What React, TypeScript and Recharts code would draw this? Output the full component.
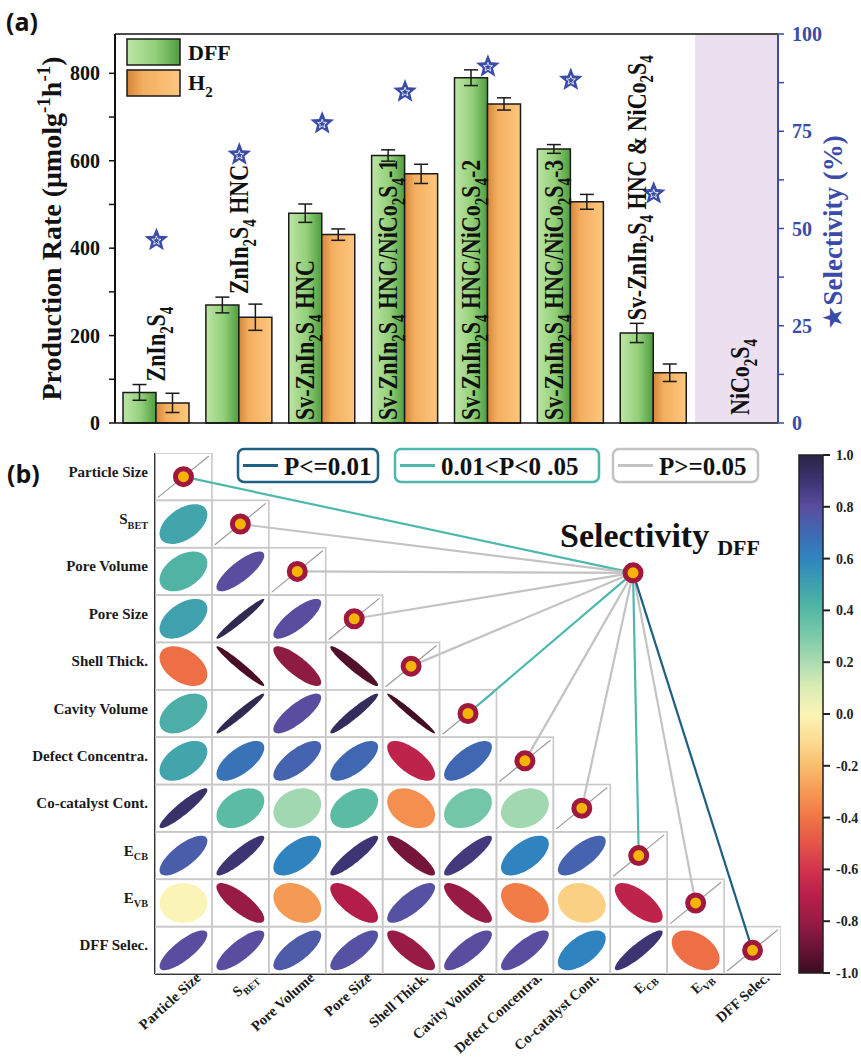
import React from "react";
import {
  ComposedChart,
  Bar,
  ErrorBar,
  Scatter,
  XAxis,
  YAxis,
  ReferenceArea,
  ReferenceLine,
  LabelList,
  ScatterChart,
  BarChart,
} from "recharts";

const SERIF = "'Liberation Serif', 'Times New Roman', serif";
const BLUE = "#3b4ba8";

// ---------- panel (a): production rate + selectivity ----------
const samples = [
  "ZnIn_{2}S_{4}",
  "ZnIn_{2}S_{4} HNC",
  "Sv-ZnIn_{2}S_{4} HNC",
  "Sv-ZnIn_{2}S_{4} HNC/NiCo_{2}S_{4}-1",
  "Sv-ZnIn_{2}S_{4} HNC/NiCo_{2}S_{4}-2",
  "Sv-ZnIn_{2}S_{4} HNC/NiCo_{2}S_{4}-3",
  "Sv-ZnIn_{2}S_{4} HNC & NiCo_{2}S_{4}",
  "NiCo_{2}S_{4}",
];
const labelInside = [false, false, true, true, true, true, false, false];
const dffRate = [70, 270, 480, 612, 790, 627, 206, null];
const dffErr = [18, 18, 21, 13, 18, 10, 22, null];
const h2Rate = [46, 242, 431, 570, 730, 506, 115, null];
const h2Err = [22, 30, 13, 22, 14, 17, 20, null];
const selectivity = [47, 69, 77, 85.2, 91.6, 88.2, 59, null];
const rateTicks = [0, 100, 200, 300, 400, 500, 600, 700, 800];
const selTicks = [0, 12.5, 25, 37.5, 50, 62.5, 75, 87.5, 100];
const RATE_MAX = 890;

const barData = samples.map((s, i) => ({
  name: s,
  dff: dffRate[i],
  dffErr: dffErr[i],
  h2: h2Rate[i],
  h2Err: h2Err[i],
  sel: selectivity[i],
}));

// ---------- panel (b): correlation matrix ----------
const varLabels = [
  "Particle Size",
  "S_{BET}",
  "Pore Volume",
  "Pore Size",
  "Shell Thick.",
  "Cavity Volume",
  "Defect Concentra.",
  "Co-catalyst Cont.",
  "E_{CB}",
  "E_{VB}",
  "DFF Selec.",
];
const corrLower: number[][] = [
  [],
  [0.48],
  [0.42, 0.8],
  [0.5, 0.97, 0.8],
  [-0.42, -0.97, -0.82, -0.95],
  [0.44, 0.97, 0.8, 0.95, -0.98],
  [0.48, 0.66, 0.72, 0.7, -0.68, 0.7],
  [0.92, 0.38, 0.22, 0.38, -0.33, 0.32, 0.22],
  [0.74, 0.9, 0.6, 0.9, -0.88, 0.88, 0.6, 0.72],
  [0.0, -0.8, -0.3, -0.72, 0.78, -0.8, -0.38, -0.14, -0.68],
  [0.8, 0.8, 0.75, 0.78, -0.8, 0.8, 0.8, 0.6, 0.9, -0.42],
];
// significance of each variable vs DFF selectivity
const pLevel = ["mid", "ns", "ns", "ns", "ns", "mid", "ns", "ns", "mid", "ns", "high"];
const pColor: Record<string, string> = { high: "#1f5f82", mid: "#4fb8ac", ns: "#c3c3c3" };
const nodePos = { x: 8.4, y: 2.53 };
const cbTicks = [-1, -0.8, -0.6, -0.4, -0.2, 0, 0.2, 0.4, 0.6, 0.8, 1];

const cmapStops: [number, string][] = [
  [-1.0, "#3a0c1f"], [-0.9, "#6b1436"], [-0.8, "#981b45"], [-0.7, "#b81f4a"],
  [-0.6, "#d2344d"], [-0.5, "#e45449"], [-0.4, "#f07545"], [-0.3, "#f59a55"],
  [-0.2, "#f9bd6f"], [-0.1, "#fbdc93"], [0.0, "#faf4b7"], [0.1, "#dcedb4"],
  [0.2, "#acdbb1"], [0.3, "#7ccaa9"], [0.4, "#54b8a2"], [0.5, "#3fa0ae"],
  [0.6, "#2f84bf"], [0.7, "#4068b2"], [0.8, "#5a4d9f"], [0.9, "#3d3473"],
  [1.0, "#2a2443"],
];

const N = varLabels.length;
const B_W = 861, B_H = 621, B_LEFT = 155, B_RIGHT = 80, B_TOP = 13, B_BOTTOM = 87;
const cellW = (B_W - B_LEFT - B_RIGHT) / N;
const cellH = (B_H - B_TOP - B_BOTTOM) / N;
const centers = varLabels.map((_, i) => i + 0.5);

const cellPoints: any[] = [];
corrLower.forEach((row, i) => {
  row.forEach((r, j) => cellPoints.push({ x: j + 0.5, y: i + 0.5, r, diag: false }));
  cellPoints.push({ x: i + 0.5, y: i + 0.5, r: 1, diag: true });
});
const circlePoints = [...centers.map((c) => ({ x: c, y: c })), { x: nodePos.x, y: nodePos.y }];

// ---------- helpers ----------
function rich(src: string, fs: number) {
  const out: React.ReactNode[] = [];
  const re = /([_^])\{([^}]*)\}/g;
  let last = 0;
  let shift = 0;
  let k = 0;
  let m: RegExpExecArray | null;
  const push = (t: string, target: number, size: number) => {
    out.push(
      <tspan key={k++} dy={target - shift} fontSize={size}>
        {t}
      </tspan>
    );
    shift = target;
  };
  while ((m = re.exec(src))) {
    if (m.index > last) push(src.slice(last, m.index), 0, fs);
    push(m[2], m[1] === "_" ? fs * 0.3 : -fs * 0.38, fs * 0.68);
    last = re.lastIndex;
  }
  if (last < src.length) push(src.slice(last), 0, fs);
  return out;
}

function hexToRgb(h: string) {
  const n = parseInt(h.slice(1), 16);
  return [(n >> 16) & 255, (n >> 8) & 255, n & 255];
}

function corrColor(r: number) {
  for (let i = 0; i < cmapStops.length - 1; i++) {
    const [v0, c0] = cmapStops[i];
    const [v1, c1] = cmapStops[i + 1];
    if (r >= v0 && r <= v1) {
      const t = (r - v0) / (v1 - v0);
      const a = hexToRgb(c0);
      const b = hexToRgb(c1);
      const c = a.map((x, k) => Math.round(x + (b[k] - x) * t));
      return `rgb(${c[0]},${c[1]},${c[2]})`;
    }
  }
  return r < 0 ? cmapStops[0][1] : cmapStops[cmapStops.length - 1][1];
}

function ellipsePath(cx: number, cy: number, hx: number, hy: number, r: number) {
  const d = Math.acos(Math.max(-1, Math.min(1, r)));
  let s = "";
  for (let k = 0; k <= 72; k++) {
    const t = (k / 72) * 2 * Math.PI;
    const px = cx + hx * Math.cos(t + d / 2);
    const py = cy - hy * Math.cos(t - d / 2);
    s += (k ? "L" : "M") + px.toFixed(2) + "," + py.toFixed(2);
  }
  return s + "Z";
}

function starPath(cx: number, cy: number, R: number, r: number) {
  let s = "";
  for (let k = 0; k < 10; k++) {
    const a = -Math.PI / 2 + (k * Math.PI) / 5;
    const rad = k % 2 === 0 ? R : r;
    s += (k ? "L" : "M") + (cx + rad * Math.cos(a)).toFixed(2) + "," + (cy + rad * Math.sin(a)).toFixed(2);
  }
  return s + "Z";
}

// ---------- panel (a) renderers ----------
const StarShape = (p: any) => {
  if (p.payload?.sel == null || p.cy == null || isNaN(p.cy)) return <g />;
  return (
    <g>
      <path d={starPath(p.cx, p.cy, 12.5, 5.4)} fill={BLUE} />
      <path d={starPath(p.cx, p.cy + 0.5, 4.8, 2)} fill="none" stroke="#fff" strokeWidth={0.8} />
    </g>
  );
};

const vertText = (cx: number, startY: number, markup: string, fs: number) => (
  <text
    transform={`translate(${cx + fs * 0.4},${startY}) rotate(-90) scale(1,1.2)`}
    textAnchor="start"
    fontFamily={SERIF}
    fontWeight={700}
    fontSize={fs}
    fill="#111"
  >
    {rich(markup, fs)}
  </text>
);

const GroupLabel = (props: any) => {
  const vb = props.viewBox ?? props;
  const x = props.x ?? vb.x;
  const y = props.y ?? vb.y;
  const width = props.width ?? vb.width;
  const height = props.height ?? vb.height;
  const index = props.index;
  const value = props.value;
  if (value == null || index == null) return null;
  const fs = 22;
  if (labelInside[index]) return vertText(x + width / 2, y + height - 3, samples[index], fs);
  const pxPer = height / value;
  const errTop = y - (dffErr[index] ?? 0) * pxPer;
  const cx = index < 2 ? x + width : x + width / 2;
  return vertText(cx, errTop - 3, samples[index], fs);
};

const NiLabel = (props: any) => {
  const vb = props.viewBox;
  if (!vb) return null;
  return vertText(vb.x + vb.width / 2 + 4, vb.y + vb.height - 8, samples[7], 22);
};

const LeftTitle = (props: any) => {
  const vb = props.viewBox ?? { x: 0, y: 34, width: 115, height: 389 };
  const cy = vb.y + vb.height / 2;
  return (
    <text
      transform={`translate(${vb.x + 61},${cy}) rotate(-90)`}
      textAnchor="middle"
      fontFamily={SERIF}
      fontWeight={700}
      fontSize={28}
      fill="#111"
    >
      {rich("Production Rate (μmolg^{-1}h^{-1})", 28)}
    </text>
  );
};

const RightTitle = (props: any) => {
  const vb = props.viewBox ?? { x: 778, y: 34, width: 83, height: 389 };
  const cy = vb.y + vb.height / 2 + 4;
  return (
    <text
      transform={`translate(${vb.x + 64},${cy}) rotate(-90)`}
      textAnchor="middle"
      fontFamily={SERIF}
      fontWeight={700}
      fontSize={27}
      fill={BLUE}
    >
      <tspan fontFamily="DejaVu Sans">★</tspan>
      <tspan>Selectivity (%)</tspan>
    </text>
  );
};

// ---------- panel (b) renderers ----------
const CellShape = (p: any) => {
  const { cx, cy, payload } = p;
  const x0 = cx - cellW / 2;
  const y0 = cy - cellH / 2;
  const box = (
    <rect x={x0} y={y0} width={cellW} height={cellH} fill="none" stroke="#c9c9c9" strokeWidth={1.6} />
  );
  if (payload.diag) {
    return (
      <g>
        {box}
        <line x1={x0 + 3} y1={y0 + cellH - 3} x2={x0 + cellW - 3} y2={y0 + 3} stroke="#9a9a9a" strokeWidth={1.2} />
      </g>
    );
  }
  return (
    <g>
      {box}
      <path d={ellipsePath(cx, cy, cellW * 0.42, cellH * 0.42, payload.r)} fill={corrColor(payload.r)} />
    </g>
  );
};

const NodeShape = (p: any) => (
  <circle cx={p.cx} cy={p.cy} r={8} fill="#f6b400" stroke="#a0183e" strokeWidth={5} />
);

const EmptyShape = () => <g />;

const RowTick = (p: any) => {
  const i = Math.floor(p.payload.value);
  return (
    <text x={p.x} y={p.y} dy={5} textAnchor="end" fontFamily={SERIF} fontWeight={700} fontSize={15} fill="#1a1a1a">
      {rich(varLabels[i], 15)}
    </text>
  );
};

const ColTick = (p: any) => {
  const i = Math.floor(p.payload.value);
  return (
    <text
      transform={`translate(${p.x + 18},${p.y + 1}) rotate(-42)`}
      textAnchor="end"
      fontFamily={SERIF}
      fontWeight={700}
      fontSize={14.5}
      fill="#1a1a1a"
    >
      {rich(varLabels[i], 14.5)}
    </text>
  );
};

const pLegend = [
  { text: "P<=0.01", level: "high", x: 238, w: 140 },
  { text: "0.01<P<0 .05", level: "mid", x: 395, w: 204 },
  { text: "P>=0.05", level: "ns", x: 613, w: 145 },
];

export default function App() {
  return (
    <div
      style={{
        position: "absolute",
        left: 0,
        top: 0,
        width: 861,
        height: 1061,
        overflow: "hidden",
        background: "#fff",
      }}
    >
      <div style={{ position: "absolute", left: 0, top: 0 }}>
        <ComposedChart
          width={861}
          height={440}
          data={barData}
          margin={{ top: 34, right: 0, bottom: 16, left: 0 }}
          barGap={0}
        >
          <XAxis dataKey="name" tick={false} tickLine={false} height={1} axisLine={{ stroke: "#111", strokeWidth: 1.5 }} />
          <YAxis
            yAxisId="left"
            width={115}
            domain={[0, RATE_MAX]}
            ticks={rateTicks}
            interval={0}
            tickFormatter={(v: number) => (v % 200 === 0 ? String(v) : "")}
            tickSize={6}
            tickMargin={9}
            axisLine={{ stroke: "#111", strokeWidth: 2 }}
            tickLine={{ stroke: "#111", strokeWidth: 1.5 }}
            tick={{ fontFamily: SERIF, fontWeight: 700, fontSize: 20, fill: "#111" }}
            label={<LeftTitle />}
          />
          <YAxis
            yAxisId="right"
            orientation="right"
            width={83}
            domain={[0, 100]}
            ticks={selTicks}
            interval={0}
            tickFormatter={(v: number) => (v % 25 === 0 ? String(v) : "")}
            tickSize={6}
            tickMargin={8}
            stroke={BLUE}
            axisLine={{ stroke: BLUE, strokeWidth: 2 }}
            tickLine={{ stroke: BLUE, strokeWidth: 1.5 }}
            tick={{ fontFamily: SERIF, fontWeight: 700, fontSize: 20, fill: BLUE }}
            label={<RightTitle />}
          />
          <ReferenceArea
            yAxisId="left"
            x1={samples[7]}
            x2={samples[7]}
            fill="#ecdff0"
            fillOpacity={1}
            stroke="none"
            label={NiLabel}
          />
          <ReferenceLine yAxisId="left" y={RATE_MAX} stroke="#111" strokeWidth={1.5} />
          <Bar
            yAxisId="left"
            dataKey="dff"
            barSize={33}
            fill="url(#gGreen)"
            stroke="#1a1a1a"
            strokeWidth={1.5}
            isAnimationActive={false}
          >
            <ErrorBar dataKey="dffErr" width={7} stroke="#1a1a1a" strokeWidth={1.5} />
            <LabelList dataKey="dff" content={GroupLabel} />
          </Bar>
          <Bar
            yAxisId="left"
            dataKey="h2"
            barSize={33}
            fill="url(#gOrange)"
            stroke="#1a1a1a"
            strokeWidth={1.5}
            isAnimationActive={false}
          >
            <ErrorBar dataKey="h2Err" width={7} stroke="#1a1a1a" strokeWidth={1.5} />
          </Bar>
          <Scatter yAxisId="right" dataKey="sel" shape={StarShape} isAnimationActive={false} />
        </ComposedChart>
      </div>

      <div style={{ position: "absolute", left: 0, top: 440 }}>
        <ScatterChart
          width={B_W}
          height={B_H}
          margin={{ top: B_TOP, right: B_RIGHT, bottom: 0, left: 0 }}
        >
          <XAxis
            type="number"
            dataKey="x"
            domain={[0, N]}
            ticks={centers}
            interval={0}
            tick={ColTick}
            tickLine={false}
            tickSize={0}
            tickMargin={4}
            height={B_BOTTOM}
            axisLine={{ stroke: "#333", strokeWidth: 2 }}
            allowDataOverflow
          />
          <YAxis
            type="number"
            dataKey="y"
            domain={[0, N]}
            reversed
            ticks={centers}
            interval={0}
            tick={RowTick}
            tickLine={false}
            tickSize={0}
            tickMargin={7}
            width={B_LEFT}
            axisLine={{ stroke: "#333", strokeWidth: 2 }}
            allowDataOverflow
          />
          <Scatter data={cellPoints} shape={CellShape} isAnimationActive={false} />
          {varLabels.map((_, i) => (
            <Scatter
              key={"ln" + i}
              data={[nodePos, { x: i + 0.5, y: i + 0.5 }]}
              line={{ stroke: pColor[pLevel[i]], strokeWidth: 2.2 }}
              shape={EmptyShape}
              isAnimationActive={false}
            />
          ))}
          <Scatter data={circlePoints} shape={NodeShape} isAnimationActive={false} />
        </ScatterChart>
      </div>

      <div style={{ position: "absolute", left: 790, top: 440 }}>
        <BarChart
          width={71}
          height={621}
          data={[{ name: "cb", range: [-1, 1] }]}
          margin={{ top: 15, right: 0, left: 9, bottom: 88 }}
          barCategoryGap={0}
        >
          <XAxis dataKey="name" hide />
          <YAxis
            orientation="right"
            domain={[-1, 1]}
            ticks={cbTicks}
            interval={0}
            tickFormatter={(v: number) => v.toFixed(1)}
            width={38}
            tickSize={7}
            tickMargin={6}
            axisLine={false}
            tickLine={{ stroke: "#222", strokeWidth: 2 }}
            tick={{ fontFamily: SERIF, fontWeight: 700, fontSize: 14, fill: "#222" }}
          />
          <Bar dataKey="range" fill="url(#cbGrad)" stroke="#222" strokeWidth={1.5} isAnimationActive={false} />
        </BarChart>
      </div>

      <svg
        width={861}
        height={1061}
        style={{ position: "absolute", left: 0, top: 0, pointerEvents: "none" }}
      >
        <defs>
          <linearGradient id="gGreen" x1="0" y1="0" x2="1" y2="0">
            <stop offset="0%" stopColor="#bde5a6" />
            <stop offset="55%" stopColor="#92cf78" />
            <stop offset="100%" stopColor="#4f9d3f" />
          </linearGradient>
          <linearGradient id="gOrange" x1="0" y1="0" x2="1" y2="0">
            <stop offset="0%" stopColor="#d5863a" />
            <stop offset="30%" stopColor="#f3ae60" />
            <stop offset="100%" stopColor="#fdc77e" />
          </linearGradient>
          <linearGradient id="cbGrad" x1="0" y1="0" x2="0" y2="1">
            {cmapStops
              .slice()
              .reverse()
              .map(([v, c]) => (
                <stop key={v} offset={`${((1 - v) / 2) * 100}%`} stopColor={c} />
              ))}
          </linearGradient>
        </defs>

        <text x={6} y={31} fontFamily="'Open Sans', sans-serif" fontWeight={700} fontSize={25} fill="#111">
          (a)
        </text>
        <text x={7} y={483} fontFamily="'Open Sans', sans-serif" fontWeight={700} fontSize={25} fill="#111">
          (b)
        </text>

        {/* panel (a) legend */}
        <rect x={127} y={39} width={53} height={26} fill="url(#gGreen)" stroke="#1a1a1a" strokeWidth={1.5} />
        <text x={188} y={60} fontFamily={SERIF} fontWeight={700} fontSize={22} fill="#111">
          DFF
        </text>
        <rect x={127} y={70} width={53} height={26} fill="url(#gOrange)" stroke="#1a1a1a" strokeWidth={1.5} />
        <text x={188} y={90} fontFamily={SERIF} fontWeight={700} fontSize={22} fill="#111">
          {rich("H_{2}", 22)}
        </text>

        {/* panel (b) significance legend */}
        {pLegend.map((l) => (
          <g key={l.text}>
            <rect
              x={l.x}
              y={449}
              width={l.w}
              height={33}
              rx={6}
              fill="#fff"
              stroke={pColor[l.level]}
              strokeWidth={2.5}
            />
            <line x1={l.x + 5} y1={465.5} x2={l.x + 40} y2={465.5} stroke={pColor[l.level]} strokeWidth={3} />
            <text x={l.x + 46} y={475} fontFamily={SERIF} fontWeight={700} fontSize={25} fill="#111">
              {l.text}
            </text>
          </g>
        ))}

        <text x={560} y={547} fontFamily={SERIF} fontWeight={700} fontSize={34} fill="#111">
          Selectivity
          <tspan dx={8} dy={8} fontSize={22}>
            DFF
          </tspan>
        </text>
      </svg>
    </div>
  );
}
